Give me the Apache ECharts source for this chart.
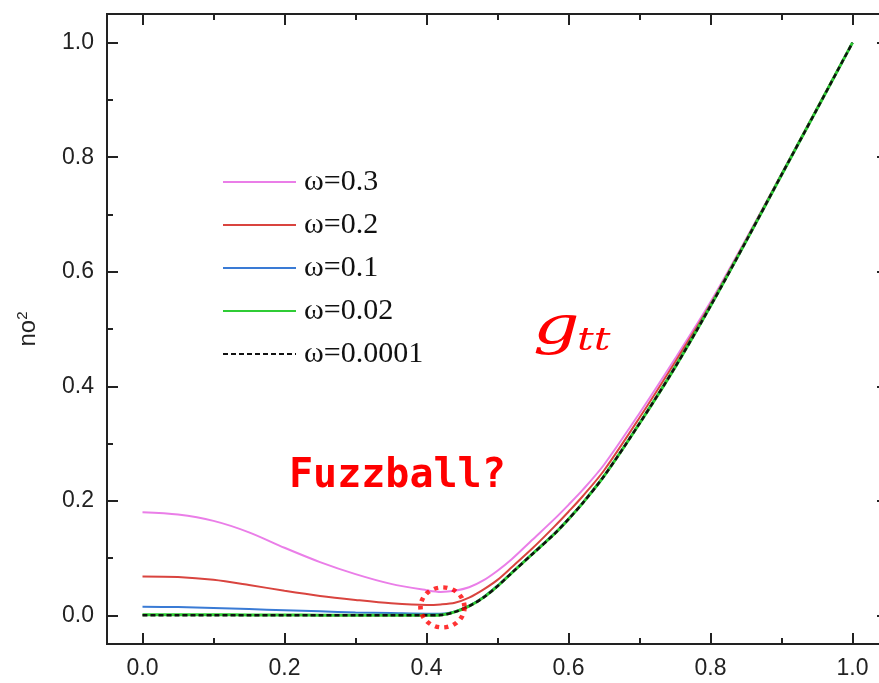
<!DOCTYPE html>
<html>
<head>
<meta charset="utf-8">
<script src="https://cdn.jsdelivr.net/npm/echarts@6/dist/echarts.min.js"></script>
<style>html,body{margin:0;padding:0;background:#fff}#c{width:879px;height:683px}</style>
</head>
<body>
<div id="c"></div>
<script>
// ---- data ----
var xs = [0, 0.05, 0.10, 0.15, 0.20, 0.25, 0.30, 0.35, 0.40, 0.42, 0.44, 0.46, 0.48, 0.50, 0.52, 0.55, 0.58, 0.60, 0.62, 0.65, 0.70, 0.75, 0.80, 0.85, 0.90, 0.95, 1.00];
var w03 = [0.180, 0.176, 0.165, 0.145, 0.118, 0.093, 0.072, 0.055, 0.044, 0.041, 0.043, 0.049, 0.061, 0.078, 0.098, 0.133, 0.168, 0.193, 0.219, 0.263, 0.353, 0.448, 0.547, 0.657, 0.771, 0.885, 1.000];
var w02 = [0.068, 0.067, 0.062, 0.053, 0.043, 0.034, 0.027, 0.021, 0.018, 0.019, 0.022, 0.031, 0.045, 0.062, 0.084, 0.118, 0.155, 0.181, 0.208, 0.253, 0.345, 0.442, 0.543, 0.655, 0.770, 0.885, 1.000];
var w01 = [0.015, 0.0145, 0.013, 0.011, 0.009, 0.007, 0.005, 0.004, 0.003, 0.003, 0.007, 0.017, 0.032, 0.052, 0.075, 0.109, 0.143, 0.169, 0.197, 0.244, 0.336, 0.434, 0.540, 0.653, 0.769, 0.884, 1.000];
var w002 = [0.001, 0.001, 0.001, 0.0008, 0.0006, 0.0004, 0.0003, 0.0002, 0.0001, 0.0006, 0.006, 0.016, 0.031, 0.051, 0.074, 0.108, 0.142, 0.168, 0.196, 0.243, 0.335, 0.433, 0.540, 0.653, 0.769, 0.884, 1.000];
var w00001 = [0, 0, 0, 0, 0, 0, 0, 0, 0, 0.0005, 0.006, 0.016, 0.031, 0.051, 0.074, 0.108, 0.142, 0.168, 0.196, 0.243, 0.335, 0.433, 0.540, 0.653, 0.769, 0.884, 1.000];
var seriesNames = ['ω=0.3', 'ω=0.2', 'ω=0.1', 'ω=0.02', 'ω=0.0001'];
var xMajor = [0, 0.2, 0.4, 0.6, 0.8, 1.0];
var xMinor = [0.1, 0.3, 0.5, 0.7, 0.9];
var yMajor = [0, 0.2, 0.4, 0.6, 0.8, 1.0];
var yMinor = [0.1, 0.3, 0.5, 0.7, 0.9];
var fuzzPoint = [0.4225, 0.014];

function pairs(arr) { return xs.map(function (x, i) { return [x, arr[i]]; }); }

var axisCol = '#222';
function mkAxis(pos, ticks, len, labels) {
  return {
    type: 'value', position: pos, min: -0.05, max: 1.05,
    axisLine: { show: true, onZero: false, lineStyle: { color: axisCol, width: 2 } },
    axisTick: { show: true, inside: true, length: len, customValues: ticks, lineStyle: { color: axisCol, width: 2 } },
    axisLabel: labels ? { show: true, customValues: ticks, margin: 13, color: '#222', fontSize: 23, fontFamily: 'Liberation Sans', formatter: function (v) { return v.toFixed(1); } } : { show: false },
    splitLine: { show: false }
  };
}

var yAxes = [mkAxis('left', yMajor, 11, true), mkAxis('left', yMinor, 6, false), mkAxis('right', yMajor, 11, false), mkAxis('right', yMinor, 6, false)];
yAxes[0].name = '{a|no}{b|2}';
yAxes[0].nameLocation = 'middle';
yAxes[0].nameGap = 66;
yAxes[0].nameRotate = 90;
yAxes[0].nameTextStyle = {
  rich: {
    a: { fontSize: 24, fontFamily: 'Liberation Sans', color: '#222', lineHeight: 26 },
    b: { fontSize: 15, fontFamily: 'Liberation Sans', color: '#222', verticalAlign: 'top', lineHeight: 26 }
  }
};

var lw = 2;
var option = {
  animation: false,
  backgroundColor: '#fff',
  grid: { left: 107, top: 14, width: 781, bottom: 39, containLabel: false, outerBoundsMode: 'none' },
  xAxis: [mkAxis('bottom', xMajor, 11, true), mkAxis('bottom', xMinor, 6, false), mkAxis('top', xMajor, 11, false), mkAxis('top', xMinor, 6, false)],
  yAxis: yAxes,
  legend: {
    data: seriesNames,
    orient: 'vertical', left: 217, top: 162,
    itemWidth: 73, itemHeight: 14, itemGap: 13,
    itemStyle: { opacity: 0 },
    textStyle: { fontFamily: 'Liberation Serif', fontSize: 30, lineHeight: 27, color: '#111', padding: [0, 0, 0, 3] }
  },
  series: [
    { name: seriesNames[0], type: 'line', data: pairs(w03), symbol: 'none', smooth: 0.3, lineStyle: { color: '#ea7ee8', width: lw }, itemStyle: { color: '#ea7ee8' }, z: 2 },
    { name: seriesNames[1], type: 'line', data: pairs(w02), symbol: 'none', smooth: 0.3, lineStyle: { color: '#d9443f', width: lw }, itemStyle: { color: '#d9443f' }, z: 3 },
    { name: seriesNames[2], type: 'line', data: pairs(w01), symbol: 'none', smooth: 0.3, lineStyle: { color: '#3a7bd5', width: lw }, itemStyle: { color: '#3a7bd5' }, z: 4 },
    { name: seriesNames[3], type: 'line', data: pairs(w002), symbol: 'none', smooth: 0.3, lineStyle: { color: '#2fcc35', width: 3 }, itemStyle: { color: '#2fcc35' }, z: 5 },
    { name: seriesNames[4], type: 'line', data: pairs(w00001), symbol: 'none', smooth: 0.3, lineStyle: { color: '#111', width: 2.5, type: [5, 3] }, itemStyle: { color: '#111' }, z: 6 },
    { name: 'fuzz', type: 'scatter', data: [fuzzPoint], symbol: 'circle', symbolSize: [44, 40], silent: true,
      itemStyle: { color: 'rgba(0,0,0,0)', borderColor: '#ff0000', borderWidth: 4.5, borderType: [4, 5] }, z: 10 }
  ],
  graphic: [
    { type: 'text', left: 289, top: 457, style: { text: 'Fuzzball?', fontFamily: 'DejaVu Sans Mono', fontWeight: 'bold', fontSize: 40, fill: '#ff0000' }, z: 20 },
    { type: 'text', left: 533, top: 303, scaleX: 1.4, style: { text: 'g', fontFamily: 'DejaVu Serif', fontStyle: 'italic', fontSize: 52, fill: '#ff0000' }, z: 20 },
    { type: 'text', left: 577, top: 326, scaleX: 1.3, style: { text: 'tt', fontFamily: 'DejaVu Serif', fontStyle: 'italic', fontSize: 32, fill: '#ff0000' }, z: 20 }
  ]
};
var chart = echarts.init(document.getElementById('c'), null, { renderer: 'canvas' });
chart.setOption(option);
</script>
</body>
</html>
